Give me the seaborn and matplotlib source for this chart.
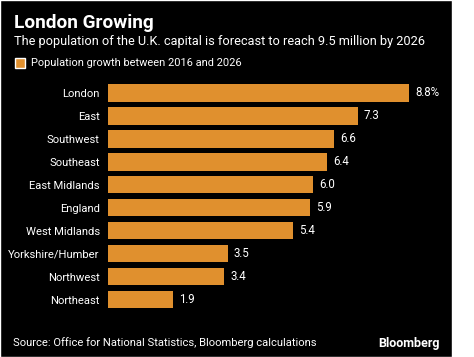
import pandas as pd
import matplotlib.pyplot as plt
import matplotlib.patches as mpatches
import seaborn as sns

# dados: crescimento populacional 2016-2026 (%)
regions = ['London', 'East', 'Southwest', 'Southeast', 'East Midlands', 'England',
           'West Midlands', 'Yorkshire/Humber', 'Northwest', 'Northeast']
growth = [8.8, 7.3, 6.6, 6.4, 6.0, 5.9, 5.4, 3.5, 3.4, 1.9]
value_labels = ['8.8%', '7.3', '6.6', '6.4', '6.0', '5.9', '5.4', '3.5', '3.4', '1.9']

ORANGE = '#E0902E'
FONT = ['Roboto', 'DejaVu Sans']

sns.set_style('dark')
plt.rcParams['font.family'] = FONT

df = pd.DataFrame({'region': regions, 'growth': growth})

fig = plt.figure(figsize=(4.74, 3.57), dpi=100, facecolor='white')
# fundo preto (a faixa da direita fica branca)
fig.patches.append(mpatches.Rectangle((0, 0), 452 / 474, 1, transform=fig.transFigure,
                                      facecolor='black', zorder=-10))

ax = fig.add_axes([108 / 474, 1 - 311 / 357, 342 / 474, 229.5 / 357])
ax.set_facecolor('black')
sns.barplot(data=df, x='growth', y='region', order=regions, color=ORANGE,
            saturation=1, width=0.76, linewidth=0, edgecolor='none', ax=ax)

ax.set_xlim(0, 10)
ax.set_ylim(9.5, -0.5)
ax.set_xlabel('')
ax.set_ylabel('')
ax.set_xticks([])
ax.tick_params(axis='y', length=0, pad=6, labelsize=8.1, labelcolor='white')
for s in ax.spines.values():
    s.set_visible(False)
ax.grid(False)

for p, lab in zip(ax.patches, value_labels):
    ax.annotate(lab, (p.get_width(), p.get_y() + p.get_height() / 2),
                xytext=(4.5, 0), textcoords='offset points', va='center', ha='left',
                color='white', fontsize=8.3)

# titulos
fig.text(14 / 474, 1 - 23 / 357, 'London Growing', color='white', fontsize=13.7,
         fontweight='bold', va='center', ha='left')
fig.text(14 / 474, 1 - 42 / 357,
         'The population of the U.K. capital is forecast to reach 9.5 million by 2026',
         color='white', fontsize=9.2, va='center', ha='left')
fig.patches.append(mpatches.Rectangle((15 / 474, 1 - 68 / 357), 10 / 474, 10 / 357,
                                      transform=fig.transFigure, facecolor=ORANGE))
fig.text(31 / 474, 1 - 63 / 357, 'Population growth between 2016 and 2026',
         color='white', fontsize=7.9, va='center', ha='left')

# rodape
fig.text(13 / 474, 1 - 343 / 357, 'Source: Office for National Statistics, Bloomberg calculations',
         color='white', fontsize=8.1, va='center', ha='left')
fig.text(440 / 474, 1 - 344 / 357, 'Bloomberg', color='white', fontsize=9,
         fontweight='bold', va='center', ha='right')

fig.savefig('out.png', dpi=100, facecolor=fig.get_facecolor())
